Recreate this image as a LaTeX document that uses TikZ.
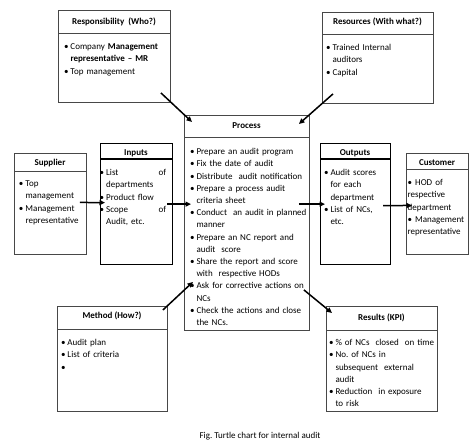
\documentclass[tikz,border=0pt]{standalone}
\usepackage{fontspec}
\setmainfont{Carlito}
\usetikzlibrary{arrows.meta,calc}
\setlength\parskip{0pt}
\newcommand\bodyf{\fontsize{9}{12.2}\selectfont}
\newcommand\headf{\fontsize{9}{11}\selectfont\bfseries}
\newcommand\nl{\hfil\break}
\newcommand\bi{\par\hangindent=6.5pt\hangafter=1\noindent\strut\makebox[6.5pt][l]{\textbullet}}
\newcommand\bj{\par\noindent\strut\textbullet\ }
\tikzset{
  box/.style={draw=black!72,line width=0.9pt,rectangle,anchor=north west,inner sep=0pt},
  boxdark/.style={box,draw=black,line width=1.2pt},
  divline/.style={draw=black!72,line width=0.9pt},
  divdark/.style={draw=black,line width=1.2pt},
  head/.style={anchor=base,inner sep=0pt,font=\headf},
  body/.style={anchor=north west,inner sep=0pt,align=left,font=\bodyf},
  arr/.style={line width=1.5pt,-{Triangle[length=5.5pt,width=5pt]}},
  captext/.style={anchor=base,inner sep=0pt,font=\bodyf}
}
\begin{document}
\begin{tikzpicture}[x=1pt,y=-1pt]
\useasboundingbox (0,0) rectangle (474,447);

% Responsibility
\node[box,minimum width=112pt,minimum height=92pt] (resp) at (58,10) {};
\draw[divline] (resp.west |- 0,33) -- (resp.east |- 0,33);
\node[head] (resph) at (114,24) {Responsibility\ \ (Who?)};
\node[body,text width=150pt] (respb) at (63.8,37.2) {\bi Company \textbf{Management}\nl\textbf{representative -- MR}\bi Top management\par};

% Resources
\node[box,minimum width=111pt,minimum height=91pt] (res) at (322,12) {};
\draw[divline] (res.west |- 0,34) -- (res.east |- 0,34);
\node[head] (resh) at (377.5,24.5) {Resources (With what?)};
\node[body,text width=140pt] (resb) at (325.8,38.2) {\bi Trained Internal\nl auditors\bi Capital\par};

% Supplier
\node[box,minimum width=72pt,minimum height=101pt] (sup) at (14,153) {};
\draw[divline] (sup.west |- 0,171) -- (sup.east |- 0,171);
\node[head] (suph) at (50,165) {Supplier};
\node[body,text width=100pt] (supb) at (18.8,174.2) {\bi Top\nl management\bi Management\nl representative\par};

% Inputs
\node[boxdark,minimum width=72pt,minimum height=121pt] (inp) at (100,143) {};
\draw[divdark] (inp.west |- 0,159) -- (inp.east |- 0,159);
\node[head] (inph) at (136,155) {Inputs};
\node[body,text width=66.5pt] (inpb) at (99.5,163.2) {\bi List\hfill of\nl departments\bi Product flow\bi Scope\hfill of\nl Audit, etc.\par};

% Process
\node[box,minimum width=125pt,minimum height=215pt] (proc) at (184,115) {};
\draw[divline] (proc.west |- 0,137) -- (proc.east |- 0,137);
\node[head] (proch) at (246.5,128) {Process};
\node[body,text width=160pt] (procb) at (189.8,142.2) {\bi Prepare an audit program\bi Fix the date of audit\bi Distribute\ \ audit notification\bi Prepare a process audit\nl criteria sheet\bi Conduct\ \ an audit in planned\nl manner\bi Prepare an NC report and\nl audit\ \ score\bi Share the report and score\nl with\ \ respective HODs\bi Ask for corrective actions on\nl NCs\bi Check the actions and close\nl the NCs.\par};

% Outputs
\node[boxdark,minimum width=70pt,minimum height=121pt] (out) at (320,143) {};
\draw[divdark] (out.west |- 0,159) -- (out.east |- 0,159);
\node[head] (outh) at (355,155) {Outputs};
\node[body,text width=100pt] (outb) at (323.8,163.2) {\bi Audit scores\nl for each\nl department\bi List of NCs,\nl etc.\par};

% Customer
\node[box,minimum width=62pt,minimum height=101pt] (cust) at (406,153) {};
\draw[divline] (cust.west |- 0,169) -- (cust.east |- 0,169);
\node[head] (custh) at (437,165) {Customer};
\node[body,text width=90pt] (custb) at (407.5,173.2) {\bj HOD of\nl respective\nl department\bj Management\nl representative\par};

% Method
\node[box,minimum width=110pt,minimum height=105pt] (meth) at (57,306) {};
\draw[divline] (meth.west |- 0,329) -- (meth.east |- 0,329);
\node[head] (methh) at (112,318) {Method (How?)};
\node[body,text width=100pt] (methb) at (60.8,333.2) {\bi Audit plan\bi List of criteria\bi\strut\par};

% Results
\node[box,minimum width=111pt,minimum height=105pt] (resu) at (326,306) {};
\draw[divline] (resu.west |- 0,330) -- (resu.east |- 0,330);
\node[head] (resuh) at (381.5,320) {Results (KPI)};
\node[body,text width=150pt] (resub) at (328.8,333.2) {\bi \%\ of NCs\ \ closed\ \ on time\bi No.\ of NCs in\nl subsequent\ \ external\nl audit\bi Reduction\ \ in exposure\nl to risk\par};

% Caption
\node[captext] (capt) at (260,438) {Fig.\ Turtle chart for internal audit};

% Arrows
\draw[arr] ($(resp.south east)+(-10,-10)$) -- ($(proc.north west)+(8,7)$);
\draw[arr] ($(res.south west)+(11,-10)$) -- ($(proc.north east)+(-11,9)$);
\draw[arr] ($(meth.north east)+(-5,4)$) -- ($(proc.south west)+(9,-49)$);
\draw[arr] ($(proc.south east)+(-6,-41)$) -- ($(resu.north west)+(6,7)$);
\draw[arr] ($(sup.east)+(-7,-1.5)$) -- ($(inp.west)+(5,-1.5)$);
\draw[arr] ($(inp.east)+(-6,0)$) -- ($(proc.west |- inp.east)+(7,0)$);
\draw[arr] ($(proc.east |- out.west)+(-11,0)$) -- ($(out.west)+(5,0)$);
\draw[arr] ($(out.east)+(-8,1.5)$) -- ($(cust.west)+(6,1.5)$);
\end{tikzpicture}
\end{document}
